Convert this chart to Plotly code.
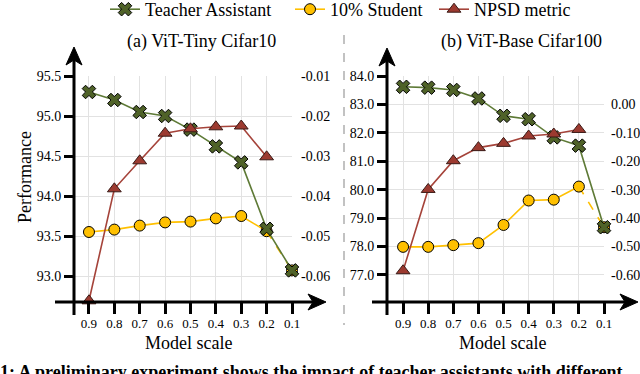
import plotly.graph_objects as go

# data
scale_labels = ["0.9", "0.8", "0.7", "0.6", "0.5", "0.4", "0.3", "0.2", "0.1"]

tiny_teacher = [95.30, 95.20, 95.05, 95.00, 94.83, 94.62, 94.42, 93.59, 93.07]
tiny_student = [93.55, 93.58, 93.63, 93.67, 93.68, 93.72, 93.75, 93.56, 93.07]
tiny_npsd = [-0.0662, -0.0382, -0.0312, -0.0243, -0.0232, -0.0227, -0.0225, -0.0302]

base_teacher = [83.62, 83.59, 83.51, 83.21, 82.60, 82.48, 81.84, 81.55, 78.68]
base_student = [77.99, 77.99, 78.05, 78.12, 78.76, 79.62, 79.65, 80.11, 78.68]
base_npsd = [-0.585, -0.299, -0.198, -0.152, -0.137, -0.111, -0.104, -0.088]

tiny_left_ticks = [93.0, 93.5, 94.0, 94.5, 95.0, 95.5]
tiny_right_ticks = [-0.06, -0.05, -0.04, -0.03, -0.02, -0.01]
base_left_ticks = [77.0, 78.0, 79.0, 80.0, 81.0, 82.0, 83.0, 84.0]
base_right_ticks = [-0.60, -0.50, -0.40, -0.30, -0.20, -0.10, 0.00]

W, H = 640, 374
FONT = "Liberation Serif"
GREEN_FILL = "#4f6228"
GREEN_LINE = "#5e7a36"
YELLOW = "#ffc000"
RED_FILL = "#9c3a30"
RED_LINE = "#a5433a"


def px(x):
    return x / W


def py(y):
    return 1 - y / H


def fnt(size, **kw):
    return dict(family=FONT, size=size, color="black", **kw)


idx = list(range(len(scale_labels)))
fig = go.Figure()


def add_panel(xa, ya, ya2, teacher, student, npsd, legend):
    # student: solid part, dashed last segment, last marker on its own
    fig.add_trace(go.Scatter(
        x=idx[7:], y=student[7:], mode="lines", xaxis=xa, yaxis=ya,
        line=dict(color=YELLOW, width=1.6, dash="dash"), showlegend=False,
        hoverinfo="skip"))
    fig.add_trace(go.Scatter(
        x=idx[:8], y=student[:8], mode="lines+markers", xaxis=xa, yaxis=ya,
        name="10% Student", showlegend=legend, legend="legend2",
        line=dict(color=YELLOW, width=1.6),
        marker=dict(symbol="circle", size=11, color=YELLOW,
                    line=dict(color="black", width=1)),
        cliponaxis=False))
    fig.add_trace(go.Scatter(
        x=idx[8:], y=student[8:], mode="markers", xaxis=xa, yaxis=ya,
        marker=dict(symbol="circle", size=11, color=YELLOW,
                    line=dict(color="black", width=1)),
        showlegend=False, cliponaxis=False))
    fig.add_trace(go.Scatter(
        x=idx, y=teacher, mode="lines+markers", xaxis=xa, yaxis=ya,
        name="Teacher Assistant", showlegend=legend, legend="legend",
        line=dict(color=GREEN_LINE, width=1.6),
        marker=dict(symbol="x", size=12, color=GREEN_FILL,
                    line=dict(color="black", width=1)),
        cliponaxis=False))
    fig.add_trace(go.Scatter(
        x=idx[:8], y=npsd, mode="lines+markers", xaxis=xa, yaxis=ya2,
        name="NPSD metric", showlegend=legend, legend="legend3",
        line=dict(color=RED_LINE, width=1.6),
        marker=dict(symbol="triangle-up", size=12, color=RED_FILL,
                    line=dict(color="#3a1a16", width=1)),
        cliponaxis=False))


add_panel("x", "y", "y2", tiny_teacher, tiny_student, tiny_npsd, True)
add_panel("x2", "y3", "y4", base_teacher, base_student, base_npsd, False)

grid = "#e2e2e2"
xcommon = dict(tickvals=idx, ticktext=scale_labels, showgrid=True, gridcolor=grid,
               gridwidth=1, ticks="outside", ticklen=11, tickwidth=3,
               tickcolor="black", tickfont=fnt(13), zeroline=False,
               showline=False, ticklabelstandoff=-2)
ycommon = dict(showgrid=True, gridcolor=grid, gridwidth=1, ticks="outside",
               ticklen=9, tickwidth=3, tickcolor="black",
               tickfont=fnt(14), zeroline=False, showline=False)
rcommon = dict(side="right", showgrid=False, ticks="", zeroline=False,
               tickfont=fnt(14), showline=False)

ydom = [py(302), py(76)]


def legend_at(x):
    return dict(orientation="h", x=px(x), y=1 + 9 / H, xanchor="left",
                yanchor="top", font=fnt(18), bgcolor="rgba(0,0,0,0)",
                itemwidth=30)


fig.update_layout(
    width=W, height=H,
    margin=dict(l=0, r=0, t=0, b=0, autoexpand=False),
    paper_bgcolor="white", plot_bgcolor="white",
    font=fnt(14),
    xaxis=dict(domain=[px(74), px(292)], range=[-0.59, 8], anchor="y", **xcommon),
    yaxis=dict(domain=ydom, range=[92.675, 95.5], anchor="x",
               tickvals=tiny_left_ticks,
               ticktext=[f"{v:.1f}" for v in tiny_left_ticks], **ycommon),
    yaxis2=dict(overlaying="y", anchor="x", range=[-0.0665, -0.01],
                tickvals=tiny_right_ticks,
                ticktext=[f"{v:.2f}" for v in tiny_right_ticks],
                ticklabelstandoff=8, **rcommon),
    xaxis2=dict(domain=[px(387), px(604)], range=[-0.64, 8], anchor="y3", **xcommon),
    yaxis3=dict(domain=ydom, range=[76.05, 84.0], anchor="x2",
                tickvals=base_left_ticks,
                ticktext=[f"{v:.1f}" for v in base_left_ticks], **ycommon),
    yaxis4=dict(overlaying="y3", anchor="x2", range=[-0.695, 0.1],
                tickvals=base_right_ticks,
                ticktext=[f"{v:.2f}" for v in base_right_ticks],
                ticklabelstandoff=6, **rcommon),
    legend=legend_at(105),
    legend2=legend_at(290),
    legend3=legend_at(434),
    showlegend=True,
)

# axis lines with arrow heads
shapes = []


def axis_arrows(x0, x1, yx, xy, y_top):
    shapes.append(dict(type="line", xref="paper", yref="paper",
                       x0=px(x0), x1=px(x1 - 8), y0=py(yx), y1=py(yx),
                       line=dict(color="black", width=3)))
    shapes.append(dict(type="path", xref="paper", yref="paper",
                       path=f"M {px(x1)},{py(yx)} L {px(x1 - 18)},{py(yx - 8)} "
                            f"L {px(x1 - 13)},{py(yx)} L {px(x1 - 18)},{py(yx + 8)} Z",
                       fillcolor="black", line=dict(color="black", width=1)))
    shapes.append(dict(type="line", xref="paper", yref="paper",
                       x0=px(xy), x1=px(xy), y0=py(315), y1=py(y_top + 8),
                       line=dict(color="black", width=3)))
    shapes.append(dict(type="path", xref="paper", yref="paper",
                       path=f"M {px(xy)},{py(y_top)} L {px(xy - 8)},{py(y_top + 18)} "
                            f"L {px(xy)},{py(y_top + 13)} L {px(xy + 8)},{py(y_top + 18)} Z",
                       fillcolor="black", line=dict(color="black", width=1)))


axis_arrows(55, 326, 302, 74, 47)
axis_arrows(372, 638, 302, 387, 48)

shapes.append(dict(type="line", xref="paper", yref="paper",
                   x0=px(344), x1=px(344), y0=py(35), y1=py(325),
                   line=dict(color="#9a9a9a", width=1.2, dash="dash")))
fig.update_layout(shapes=shapes)

annotations = [
    dict(text="(a) ViT-Tiny Cifar10", x=px(201), y=py(41), font=fnt(18)),
    dict(text="(b) ViT-Base Cifar100", x=px(521), y=py(41), font=fnt(18)),
    dict(text="Performance", x=px(25), y=py(177), textangle=-90, font=fnt(18)),
    dict(text="Model scale", x=px(188), y=py(343), font=fnt(18)),
    dict(text="Model scale", x=px(502), y=py(343), font=fnt(18)),
    dict(text="<b>1: A preliminary experiment shows the impact of teacher assistants with different</b>",
         x=px(-2), y=py(372), xanchor="left", font=fnt(18)),
]
for a in annotations:
    a.setdefault("xref", "paper")
    a.setdefault("yref", "paper")
    a.setdefault("xanchor", "center")
    a.setdefault("yanchor", "middle")
    a.setdefault("showarrow", False)
fig.update_layout(annotations=annotations)

fig.write_html("out.html", post_script="document.body.style.margin='0';",
               config={"displayModeBar": False})
